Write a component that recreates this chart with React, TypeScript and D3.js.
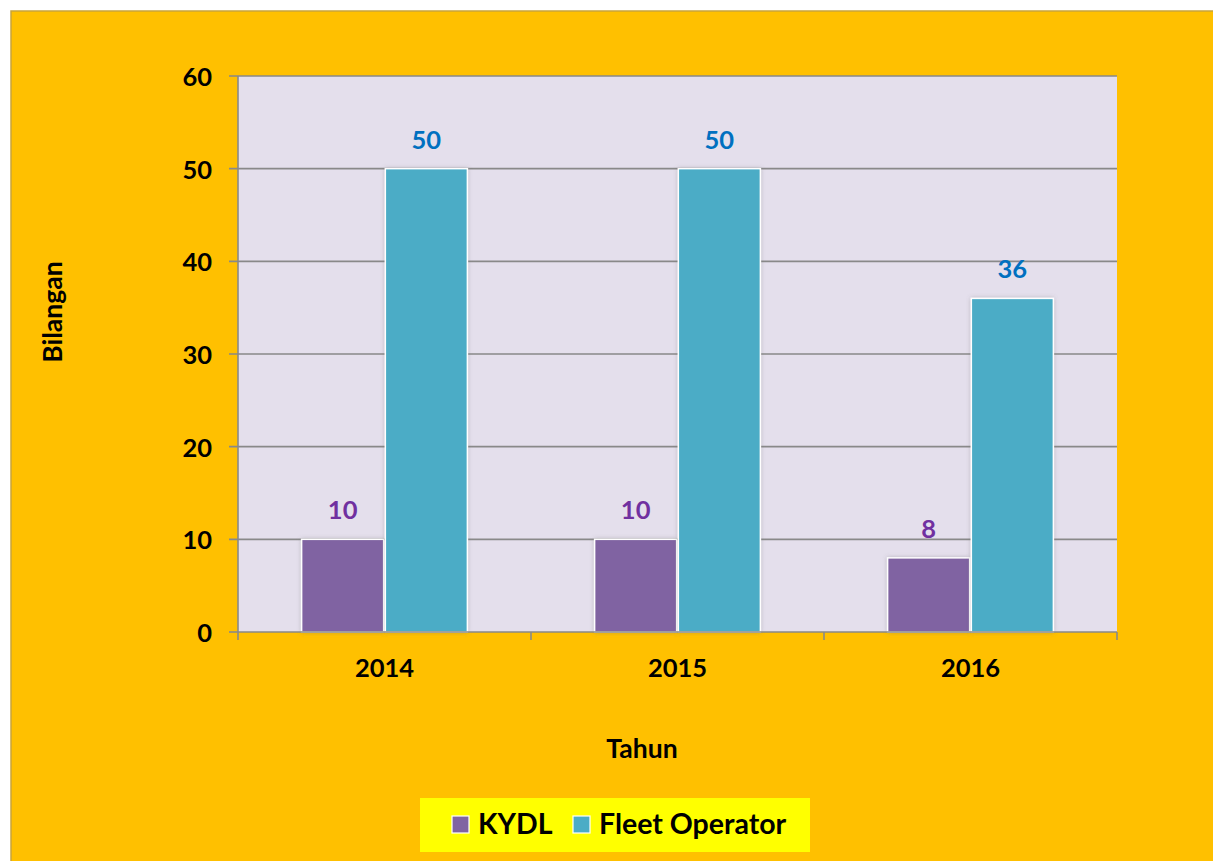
import React from 'react';
import * as d3 from 'd3';

const years = ['2014', '2015', '2016'];
const seriesNames = ['KYDL', 'Fleet Operator'];
const kydlValues = [10, 10, 8];
const fleetValues = [50, 50, 36];
const yTicks = [0, 10, 20, 30, 40, 50, 60];

const barColors = ['#8064A2', '#4BACC6'];
const labelColors = ['#7030A0', '#0070C0'];

const FONT = 'Lato, "Open Sans", sans-serif';

export default function App() {
  const width = 1213;
  const height = 861;
  const plot = { left: 238, top: 76, right: 1117, bottom: 632 };

  const x0 = d3.scaleBand<string>().domain(years).range([plot.left, plot.right]);
  const x1 = d3
    .scaleBand<string>()
    .domain(seriesNames)
    .range([0, x0.bandwidth()])
    .paddingInner(0.02)
    .paddingOuter(0.76);
  const y = d3.scaleLinear().domain([0, 60]).range([plot.bottom, plot.top]);

  const seriesValues = [kydlValues, fleetValues];

  return (
    <svg
      width={width}
      height={height}
      style={{ position: 'absolute', left: 0, top: 0 }}
      fontFamily={FONT}
    >
      <defs>
        <filter id="barShadow" x="-20%" y="-20%" width="140%" height="140%">
          <feDropShadow dx="0" dy="0" stdDeviation="2" floodColor="#6b6b6b" floodOpacity="0.35" />
        </filter>
      </defs>

      {/* outer chart area */}
      <rect x={11} y={11} width={width} height={height} fill="#FFC000" stroke="#C9A43A" strokeWidth={1.5} />

      {/* plot area */}
      <rect
        x={plot.left}
        y={plot.top}
        width={plot.right - plot.left}
        height={plot.bottom - plot.top}
        fill="#E4DFEC"
      />

      {/* gridlines + y ticks */}
      {yTicks.map((t) => (
        <g key={`y-${t}`}>
          <line
            x1={plot.left - 9}
            x2={t > 0 ? plot.right : plot.left}
            y1={y(t)}
            y2={y(t)}
            stroke="#898989"
            strokeWidth={1.6}
          />
          <text
            x={212}
            y={y(t)}
            textAnchor="end"
            dominantBaseline="central"
            fontSize={25.5}
            fontWeight="bold"
            fill="#000"
          >
            {t}
          </text>
        </g>
      ))}

      {/* bars */}
      {years.map((yr, i) => (
        <g key={`grp-${yr}`} transform={`translate(${x0(yr)},0)`}>
          {seriesNames.map((s, j) => {
            const v = seriesValues[j][i];
            const bx = x1(s) as number;
            return (
              <g key={`bar-${yr}-${s}`}>
                <rect
                  x={bx}
                  y={y(v)}
                  width={x1.bandwidth()}
                  height={plot.bottom - y(v)}
                  fill={barColors[j]}
                  stroke="#ffffff"
                  strokeWidth={1.5}
                  filter="url(#barShadow)"
                />
                <text
                  x={bx + x1.bandwidth() / 2}
                  y={y(v) - 20}
                  textAnchor="middle"
                  fontSize={25.5}
                  fontWeight="bold"
                  fill={labelColors[j]}
                >
                  {v}
                </text>
              </g>
            );
          })}
        </g>
      ))}

      {/* axes */}
      <line x1={plot.left} x2={plot.left} y1={plot.top} y2={plot.bottom} stroke="#898989" strokeWidth={1.6} />
      <line x1={plot.left} x2={plot.right} y1={plot.bottom} y2={plot.bottom} stroke="#898989" strokeWidth={1.6} />
      {[...years.map((yr) => x0(yr) as number), plot.right].map((xv, i) => (
        <line key={`xt-${i}`} x1={xv} x2={xv} y1={plot.bottom} y2={plot.bottom + 8} stroke="#898989" strokeWidth={1.6} />
      ))}
      {years.map((yr) => (
        <text
          key={`xl-${yr}`}
          x={(x0(yr) as number) + x0.bandwidth() / 2}
          y={677}
          textAnchor="middle"
          fontSize={25.5}
          fontWeight="bold"
          fill="#000"
        >
          {yr}
        </text>
      ))}

      {/* axis titles */}
      <text x={642} y={758} textAnchor="middle" fontSize={26.5} fontWeight="bold" fill="#000">
        Tahun
      </text>
      <text
        transform="translate(62,312) rotate(-90)"
        textAnchor="middle"
        fontSize={26.5}
        fontWeight="bold"
        fill="#000"
      >
        Bilangan
      </text>

      {/* legend */}
      <rect x={420} y={798} width={390} height={54} fill="#FFFF00" />
      {seriesNames.map((s, j) => {
        const lx = j === 0 ? 452 : 573;
        return (
          <g key={`lg-${s}`}>
            <rect x={lx} y={816} width={17} height={17} fill={barColors[j]} stroke="#ffffff" strokeWidth={1.2} />
            <text x={lx + 26} y={834} fontSize={28.5} fontWeight="bold" fill="#000">
              {s}
            </text>
          </g>
        );
      })}
    </svg>
  );
}
